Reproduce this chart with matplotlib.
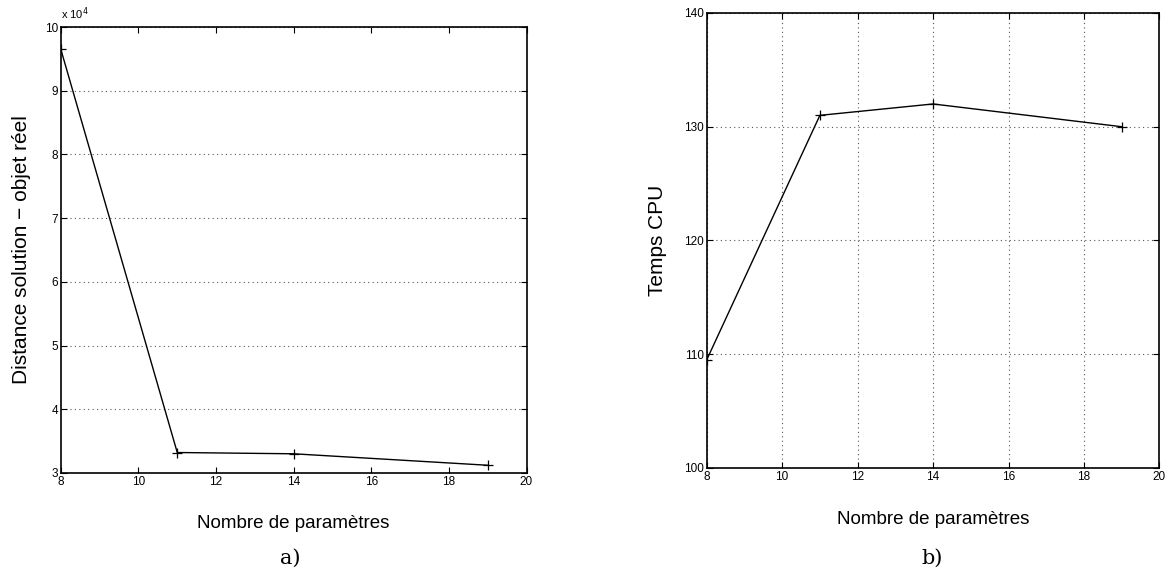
import matplotlib
matplotlib.use("Agg")
import matplotlib.pyplot as plt

n_params = [8, 11, 14, 19]
distance = [9.65, 3.32, 3.30, 3.12]   # x 10^4
cpu_time = [109.5, 131.0, 132.0, 130.0]

plt.rcParams['font.family'] = ['Liberation Sans', 'DejaVu Sans']

fig = plt.figure(figsize=(11.7, 5.76), dpi=100)

# left panel: distance
ax1 = fig.add_axes([0.052, 0.179, 0.398, 0.774])
ax1.plot(n_params, distance, color='black', lw=1, marker='+', ms=7, mew=0.9)
ax1.set_xlim(8, 20)
ax1.set_ylim(3, 10)
ax1.set_xticks(range(8, 21, 2))
ax1.set_yticks(range(3, 11))
ax1.yaxis.grid(True, linestyle=(0, (1, 3)), color='#555555', lw=0.8)
ax1.tick_params(direction='in', top=True, right=True, labelsize=8.5, length=4, pad=2)
ax1.set_xlabel('Nombre de paramètres', fontsize=13.5, labelpad=20)
ax1.set_ylabel('Distance solution \u2212 objet réel', fontsize=15, labelpad=10)
ax1.text(0.0, 1.012, 'x 10$^4$', transform=ax1.transAxes, fontsize=8, va='bottom')
fig.text(0.248, 0.022, 'a)', fontsize=15, family='DejaVu Serif', ha='center')

# right panel: CPU time
ax2 = fig.add_axes([0.604, 0.1875, 0.387, 0.79])
ax2.plot(n_params, cpu_time, color='black', lw=1, marker='+', ms=7, mew=0.9)
ax2.set_xlim(8, 20)
ax2.set_ylim(100, 140)
ax2.set_xticks(range(8, 21, 2))
ax2.set_yticks(range(100, 141, 10))
ax2.grid(True, linestyle=(0, (1, 3)), color='#555555', lw=0.8)
ax2.tick_params(direction='in', top=True, right=True, labelsize=8.5, length=4, pad=2)
ax2.set_xlabel('Nombre de paramètres', fontsize=13.5, labelpad=20)
ax2.set_ylabel('Temps CPU', fontsize=15, labelpad=12)
fig.text(0.797, 0.022, 'b)', fontsize=15, family='DejaVu Serif', ha='center')

for ax in (ax1, ax2):
    for s in ax.spines.values():
        s.set_linewidth(1.2)

fig.savefig('out.png', dpi=100)
